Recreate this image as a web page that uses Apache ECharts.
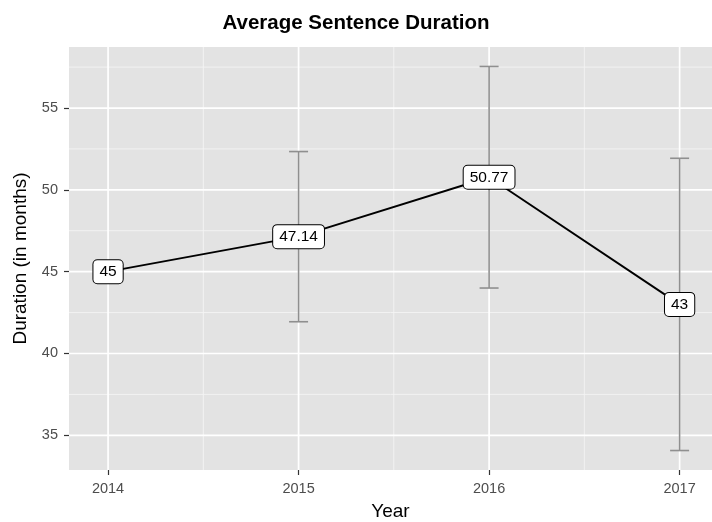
<!DOCTYPE html>
<html>
<head>
<meta charset="utf-8">
<script src="https://cdn.jsdelivr.net/npm/echarts@6/dist/echarts.min.js"></script>
<style>html,body{margin:0;padding:0;background:#fff}#c{width:712px;height:522px}</style>
</head>
<body>
<div id="c"></div>
<script>
const years = [2014, 2015, 2016, 2017];
const durations = [45, 47.14, 50.77, 43];
const labels = ['45', '47.14', '50.77', '43'];
const errLow = [null, 41.94, 44.0, 34.07];
const errHigh = [null, 52.34, 57.54, 51.93];
const xTicks = [2014, 2015, 2016, 2017];
const yTicks = [35, 40, 45, 50, 55];

const xMinor = xTicks.slice(0, -1).map((v, i) => (v + xTicks[i + 1]) / 2);
const yMinor = yTicks.slice(0, -1).map((v, i) => (v + yTicks[i + 1]) / 2).concat([57.5]);

const FONT = 'Liberation Sans, Arial, Helvetica, sans-serif';
const chart = echarts.init(document.getElementById('c'));

// gridline specs: [axis (0 = vertical at x, 1 = horizontal at y), value, major?]
const gridData = []
  .concat(xMinor.map(v => [0, v, 0]))
  .concat(yMinor.map(v => [1, v, 0]))
  .concat(xTicks.map(v => [0, v, 1]))
  .concat(yTicks.map(v => [1, v, 1]));

const errData = years.map((y, i) => [y, errLow[i], errHigh[i]]).filter(d => d[1] != null);

chart.setOption({
  animation: false,
  backgroundColor: '#ffffff',
  title: {
    text: 'Average Sentence Duration',
    left: 'center',
    top: 8,
    textStyle: { fontFamily: FONT, fontSize: 20.5, fontWeight: 'bold', color: '#000' }
  },
  grid: {
    left: 69, right: 0, top: 47, bottom: 52,
    containLabel: false,
    outerBoundsMode: 'none',
    show: true, backgroundColor: '#e3e3e3', borderWidth: 0
  },
  xAxis: {
    type: 'value',
    min: 2013.795,
    max: 2017.17,
    name: 'Year',
    nameLocation: 'middle',
    nameGap: 32,
    nameTextStyle: { fontFamily: FONT, fontSize: 19, color: '#000' },
    axisLine: { show: false },
    axisTick: { show: true, customValues: xTicks, length: 5, lineStyle: { color: '#333', width: 1.2 } },
    axisLabel: { customValues: xTicks, fontFamily: FONT, fontSize: 14.5, color: '#4d4d4d', margin: 11, formatter: v => String(v) },
    splitLine: { show: false }
  },
  yAxis: {
    type: 'value',
    min: 32.88,
    max: 58.73,
    name: 'Duration (in months)',
    nameLocation: 'middle',
    nameRotate: 90,
    nameGap: 39,
    nameTextStyle: { fontFamily: FONT, fontSize: 19, color: '#000' },
    axisLine: { show: false },
    axisTick: { show: true, customValues: yTicks, length: 5, lineStyle: { color: '#333', width: 1.2 } },
    axisLabel: { customValues: yTicks, fontFamily: FONT, fontSize: 14.5, color: '#4d4d4d', margin: 11 },
    splitLine: { show: false }
  },
  series: [
    {
      type: 'custom',
      z: 1,
      silent: true,
      data: gridData,
      clip: true,
      renderItem: function (params, api) {
        const cs = params.coordSys;
        const axis = api.value(0);
        const v = api.value(1);
        const major = api.value(2) === 1;
        const style = { stroke: major ? '#ffffff' : '#f4f4f4', lineWidth: major ? 1.7 : 0.9 };
        if (axis === 0) {
          const x = api.coord([v, 45])[0];
          return { type: 'line', shape: { x1: x, y1: cs.y, x2: x, y2: cs.y + cs.height }, style: style };
        }
        const y = api.coord([2015, v])[1];
        return { type: 'line', shape: { x1: cs.x, y1: y, x2: cs.x + cs.width, y2: y }, style: style };
      }
    },
    {
      type: 'custom',
      z: 2,
      silent: true,
      data: errData,
      renderItem: function (params, api) {
        const x = api.value(0);
        const lo = api.coord([x, api.value(1)]);
        const hi = api.coord([x, api.value(2)]);
        const hw = 9.5;
        const style = { stroke: '#8f8f8f', lineWidth: 1.6 };
        return {
          type: 'group',
          children: [
            { type: 'line', shape: { x1: lo[0], y1: lo[1], x2: hi[0], y2: hi[1] }, style: style },
            { type: 'line', shape: { x1: lo[0] - hw, y1: lo[1], x2: lo[0] + hw, y2: lo[1] }, style: style },
            { type: 'line', shape: { x1: hi[0] - hw, y1: hi[1], x2: hi[0] + hw, y2: hi[1] }, style: style }
          ]
        };
      }
    },
    {
      type: 'line',
      z: 3,
      data: years.map((y, i) => [y, durations[i]]),
      symbol: 'circle',
      symbolSize: 0.1,
      itemStyle: { color: '#000' },
      lineStyle: { color: '#000', width: 1.9 },
      label: {
        show: true,
        position: 'inside',
        formatter: p => labels[p.dataIndex],
        fontFamily: FONT,
        fontSize: 15.5,
        color: '#000',
        backgroundColor: '#fff',
        borderColor: '#000',
        borderWidth: 1,
        borderRadius: 4,
        padding: [4, 6, 3, 6]
      }
    }
  ]
});
</script>
</body>
</html>
